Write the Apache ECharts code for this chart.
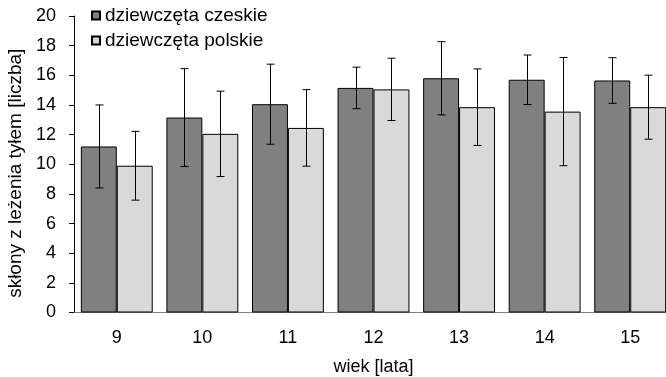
<!DOCTYPE html>
<html>
<head>
<meta charset="utf-8">
<script src="https://cdn.jsdelivr.net/npm/echarts@6/dist/echarts.min.js"></script>
<style>
  html, body { margin: 0; padding: 0; background: #fff; }
  #chart { width: 666px; height: 377px; }
</style>
</head>
<body>
<div id="chart"></div>
<script>
// Age groups (years)
const ages = ['9', '10', '11', '12', '13', '14', '15'];
const seriesNames = ['dziewczęta czeskie', 'dziewczęta polskie'];
// Mean number of sit-ups and standard deviation per age group
const czechMean = [11.2, 13.15, 14.05, 15.15, 15.8, 15.7, 15.65];
const czechSd   = [2.8, 3.3, 2.7, 1.4, 2.47, 1.67, 1.54];
const polishMean = [9.9, 12.05, 12.45, 15.05, 13.85, 13.55, 13.85];
const polishSd   = [2.32, 2.88, 2.58, 2.1, 2.58, 3.65, 2.16];
const yTicks = { min: 0, max: 20, step: 2 };

const FONT = 'Liberation Sans, Arial, sans-serif';
const categoryGap = 0.16;           // fraction of band left empty between groups
const barShare = (1 - categoryGap) / 2;

function errorData(mean, sd) {
  return mean.map((m, i) => [i, m - sd[i], m + sd[i]]);
}

function errorRenderer(side) {
  return function (params, api) {
    const idx = api.value(0);
    const band = api.size([1, 0])[0];
    const lo = api.coord([idx, api.value(1)]);
    const hi = api.coord([idx, api.value(2)]);
    const x = Math.round(lo[0] + side * band * barShare / 2) + 0.5;
    const cap = 4;
    const style = { stroke: '#000', lineWidth: 1 };
    return {
      type: 'group',
      children: [
        { type: 'line', shape: { x1: x, y1: hi[1], x2: x, y2: lo[1] }, style },
        { type: 'line', shape: { x1: x - cap, y1: hi[1], x2: x + cap, y2: hi[1] }, style },
        { type: 'line', shape: { x1: x - cap, y1: lo[1], x2: x + cap, y2: lo[1] }, style }
      ]
    };
  };
}

const chart = echarts.init(document.getElementById('chart'), null, { renderer: 'canvas' });
chart.setOption({
  animation: false,
  textStyle: { fontFamily: FONT },
  grid: {
    left: 74, top: 16, right: -7, bottom: 64.5,
    containLabel: false,
    outerBoundsMode: 'none'
  },
  legend: {
    orient: 'vertical',
    left: 86,
    top: 1,
    itemWidth: 8,
    itemHeight: 8,
    itemGap: 6,
    icon: 'rect',
    data: seriesNames,
    textStyle: { fontFamily: FONT, fontSize: 19, color: '#000' }
  },
  xAxis: {
    type: 'category',
    data: ages,
    name: 'wiek [lata]',
    nameLocation: 'middle',
    nameGap: 46,
    nameTextStyle: { fontFamily: FONT, fontSize: 18, color: '#000' },
    axisLine: { lineStyle: { color: '#808080', width: 1 } },
    axisTick: { show: false },
    axisLabel: { fontFamily: FONT, fontSize: 18, color: '#000', margin: 17 }
  },
  yAxis: {
    type: 'value',
    min: yTicks.min,
    max: yTicks.max,
    interval: yTicks.step,
    name: 'skłony z leżenia tyłem [liczba]',
    nameLocation: 'middle',
    nameGap: 43,
    nameTextStyle: { fontFamily: FONT, fontSize: 19, color: '#000', padding: [0, 18, 0, 0] },
    splitLine: { show: false },
    axisLine: { show: true, lineStyle: { color: '#000', width: 1 } },
    axisTick: { show: true, length: 5, lineStyle: { color: '#000' } },
    axisLabel: { fontFamily: FONT, fontSize: 18, color: '#000', margin: 18 }
  },
  series: [
    {
      name: seriesNames[0],
      type: 'bar',
      data: czechMean,
      barGap: '0%',
      barCategoryGap: (categoryGap * 100) + '%',
      itemStyle: { color: '#808080', borderColor: '#000', borderWidth: 1 }
    },
    {
      name: seriesNames[1],
      type: 'bar',
      data: polishMean,
      barGap: '0%',
      barCategoryGap: (categoryGap * 100) + '%',
      itemStyle: { color: '#d9d9d9', borderColor: '#000', borderWidth: 1 }
    },
    {
      type: 'custom',
      renderItem: errorRenderer(-1),
      data: errorData(czechMean, czechSd),
      encode: { x: 0, y: [1, 2] },
      z: 10,
      silent: true
    },
    {
      type: 'custom',
      renderItem: errorRenderer(1),
      data: errorData(polishMean, polishSd),
      encode: { x: 0, y: [1, 2] },
      z: 10,
      silent: true
    }
  ]
});
</script>
</body>
</html>
